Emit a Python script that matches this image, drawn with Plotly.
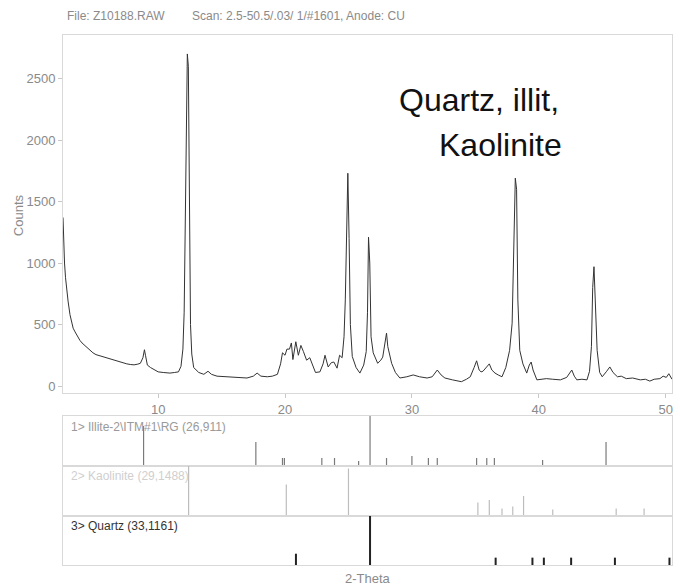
import plotly.graph_objects as go

# ---- main diffractogram (2-theta, counts) ----
two_theta = [2.50, 2.55, 2.62, 2.70, 2.79, 2.90, 3.05, 3.20, 3.30, 3.45, 3.60, 3.84, 4.00, 4.20, 4.40, 4.60,
             4.86, 5.10, 5.40, 5.70, 6.00, 6.20, 6.50, 6.80, 7.10, 7.53, 7.80, 8.10, 8.40, 8.60, 8.80, 8.92,
             9.00, 9.15, 9.40, 9.70, 10.00, 10.40, 10.93, 11.30, 11.60, 11.80, 11.95, 12.05, 12.15, 12.22,
             12.30, 12.38, 12.45, 12.55, 12.65, 12.80, 13.20, 13.60, 13.93, 14.20, 14.64, 15.20, 15.90, 16.50,
             17.00, 17.50, 17.80, 18.10, 18.60, 19.00, 19.40, 19.65, 19.80, 20.00, 20.15, 20.35, 20.50, 20.62,
             20.85, 21.05, 21.25, 21.45, 21.70, 21.95, 22.15, 22.40, 22.75, 23.00, 23.15, 23.40, 23.65, 23.85,
             24.10, 24.30, 24.50, 24.65, 24.75, 24.85, 24.95, 25.05, 25.15, 25.30, 25.60, 25.90, 26.20, 26.40,
             26.50, 26.58, 26.68, 26.78, 26.95, 27.30, 27.55, 27.70, 27.90, 28.00, 28.10, 28.40, 28.70, 29.05,
             29.60, 30.10, 30.60, 31.20, 31.60, 32.00, 32.30, 32.60, 33.20, 33.90, 34.30, 34.60, 34.90, 35.10,
             35.30, 35.45, 35.60, 35.90, 36.10, 36.30, 36.55, 36.80, 37.10, 37.40, 37.70, 37.90, 38.05, 38.15,
             38.25, 38.35, 38.50, 38.75, 39.05, 39.25, 39.40, 39.55, 39.85, 40.20, 40.60, 41.10, 41.70, 42.20,
             42.45, 42.60, 42.80, 43.00, 43.40, 43.80, 44.00, 44.15, 44.25, 44.35, 44.45, 44.60, 44.80, 45.00,
             45.35, 45.60, 45.85, 46.20, 46.50, 46.90, 47.40, 48.00, 48.40, 48.75, 49.10, 49.55, 49.80, 50.05,
             50.25, 50.40, 50.50]
counts = [1370, 1150, 1000, 880, 780, 690, 580, 520, 470, 440, 410, 370, 350, 330, 310, 290,
          270, 255, 245, 235, 225, 220, 210, 200, 190, 180, 175, 172, 178, 185, 230, 295,
          250, 170, 150, 130, 115, 110, 105, 110, 115, 160, 300, 600, 1300, 2200,
          2700, 2600, 1300, 500, 260, 150, 110, 95, 120, 95, 80, 75, 70, 68,
          65, 80, 105, 80, 75, 80, 95, 180, 270, 250, 300, 300, 350, 215,
          360, 250, 330, 280, 210, 230, 180, 110, 115, 180, 250, 155, 190, 195,
          145, 250, 230, 400, 700, 1400, 1730, 1200, 500, 240, 150, 105, 170, 280,
          600, 1210, 1000, 400, 270, 185, 210, 235, 380, 430, 320, 185, 110, 65,
          75, 90, 75, 65, 75, 130, 90, 65, 50, 35, 55, 75, 150, 205,
          130, 115, 120, 160, 180, 130, 105, 90, 75, 150, 290, 510, 1100, 1690,
          1600, 700, 290, 180, 105, 170, 195, 130, 50, 55, 60, 55, 50, 70,
          110, 130, 80, 50, 55, 50, 120, 320, 800, 970, 700, 290, 110, 75,
          120, 155, 110, 75, 80, 60, 65, 50, 55, 40, 55, 60, 80, 70,
          100, 70, 55]

# ---- reference stick patterns (position, relative intensity %) ----
illite_pos = [8.85, 17.7, 19.8, 19.95, 22.9, 23.9, 25.8, 26.7, 28.0, 30.0, 31.3, 32.0, 35.1, 35.9, 36.5, 40.3, 45.3]
illite_int = [80, 48, 16, 16, 16, 16, 10, 100, 16, 20, 16, 16, 16, 16, 16, 12, 48]
kaol_pos = [12.4, 20.1, 25.0, 35.2, 36.1, 37.1, 37.95, 38.8, 41.1, 46.1, 48.3]
kaol_int = [100, 63, 95, 27, 32, 15, 19, 40, 13, 15, 15]
quartz_pos = [20.86, 26.7, 36.6, 39.5, 40.4, 42.55, 46.0, 50.3]
quartz_int = [23, 100, 15, 15, 15, 15, 15, 15]

phase_labels = ["1&gt; Illite-2\\ITM#1\\RG (26,911)", "2&gt; Kaolinite (29,1488)", "3&gt; Quartz (33,1161)"]
x_ticks = [10, 20, 30, 40, 50]
y_ticks = [0, 500, 1000, 1500, 2000, 2500]

FONT = "Liberation Sans Narrow, Arial Narrow, Liberation Sans, Arial, sans-serif"
FRAME = "#d9d9d9"


def sticks(pos, inten):
    xs, ys = [], []
    for p, h in zip(pos, inten):
        xs += [p, p, None]
        ys += [0, h, None]
    return xs, ys


fig = go.Figure()
fig.add_trace(go.Scatter(x=two_theta, y=counts, mode="lines",
                         line=dict(color="#333333", width=1), xaxis="x", yaxis="y",
                         showlegend=False, hoverinfo="skip"))

stick_sets = [(illite_pos, illite_int, "#7a7a7a", 1.2),
              (kaol_pos, kaol_int, "#bdbdbd", 1.2),
              (quartz_pos, quartz_int, "#222222", 2)]
for i, (p, h, c, w) in enumerate(stick_sets):
    xs, ys = sticks(p, h)
    fig.add_trace(go.Scatter(x=xs, y=ys, mode="lines", line=dict(color=c, width=w),
                             xaxis=f"x{i + 2}", yaxis=f"y{i + 2}", showlegend=False,
                             hoverinfo="skip"))

axis_common = dict(showline=True, linecolor=FRAME, linewidth=1, mirror=True,
                   showgrid=False, zeroline=False)

layout = dict(
    width=680, height=588,
    margin=dict(l=63, r=8, t=35, b=23),
    paper_bgcolor="white", plot_bgcolor="white",
    xaxis=dict(domain=[0, 1], anchor="y", range=[2.5, 50.5], tickvals=x_ticks,
               ticks="outside", ticklen=4, tickcolor="#c8c8c8",
               tickfont=dict(family=FONT, size=13, color="#8a8a8a"), **axis_common),
    yaxis=dict(domain=[0.3245, 1], anchor="x", range=[-57, 2854], tickvals=y_ticks,
               ticks="outside", ticklen=4, tickcolor="#c8c8c8",
               tickfont=dict(family=FONT, size=13, color="#8a8a8a"), **axis_common),
)
domains = [[0.1868, 0.2811], [0.0925, 0.1868], [0.0, 0.0925]]
for i, d in enumerate(domains):
    n = i + 2
    layout[f"xaxis{n}"] = dict(domain=[0, 1], anchor=f"y{n}", range=[2.5, 50.5],
                               showticklabels=False, ticks="", **axis_common)
    layout[f"yaxis{n}"] = dict(domain=d, anchor=f"x{n}", range=[0, 100],
                               showticklabels=False, ticks="", **axis_common)
fig.update_layout(**layout)

label_colors = ["#9a9a9a", "#cfcfcf", "#333333"]
for i, (txt, col) in enumerate(zip(phase_labels, label_colors)):
    n = i + 2
    fig.add_annotation(text=txt, xref=f"x{n} domain", yref=f"y{n} domain", x=0.01, y=0.97,
                       xanchor="left", yanchor="top", showarrow=False,
                       font=dict(family=FONT, size=12, color=col))

fig.add_annotation(text="File: Z10188.RAW", xref="paper", yref="paper", x=0.003, y=1.036,
                   xanchor="left", yanchor="middle", showarrow=False,
                   font=dict(family=FONT, size=12, color="#8a8a8a"))
fig.add_annotation(text="Scan: 2.5-50.5/.03/ 1/#1601, Anode: CU", xref="paper", yref="paper",
                   x=0.2085, y=1.036, xanchor="left", yanchor="middle", showarrow=False,
                   font=dict(family=FONT, size=12, color="#8a8a8a"))
fig.add_annotation(text="Counts", xref="paper", yref="paper", x=-0.074, y=0.66,
                   textangle=-90, xanchor="center", yanchor="middle", showarrow=False,
                   font=dict(family=FONT, size=13, color="#8a8a8a"))
fig.add_annotation(text="2-Theta", xref="paper", yref="paper", x=0.5, y=-0.025,
                   xanchor="center", yanchor="middle", showarrow=False,
                   font=dict(family=FONT, size=13, color="#8a8a8a"))
fig.add_annotation(text="Quartz, illit,", xref="paper", yref="paper", x=0.818, y=0.877,
                   xanchor="right", yanchor="middle", showarrow=False,
                   font=dict(family="Liberation Sans, Arial, sans-serif", size=32, color="#111111"))
fig.add_annotation(text="Kaolinite", xref="paper", yref="paper", x=0.823, y=0.792,
                   xanchor="right", yanchor="middle", showarrow=False,
                   font=dict(family="Liberation Sans, Arial, sans-serif", size=32, color="#111111"))

fig.write_html("out.html")
